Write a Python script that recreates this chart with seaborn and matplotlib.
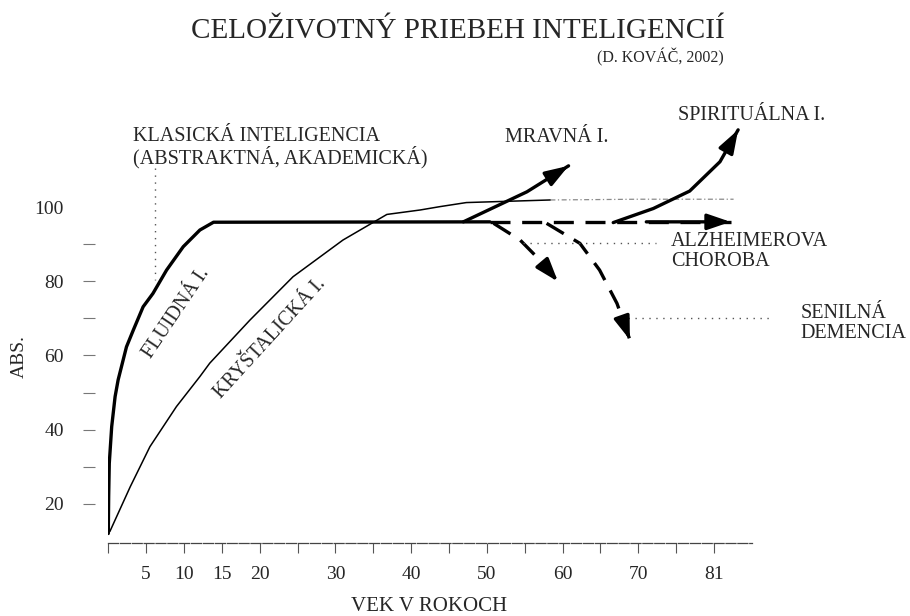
import numpy as np
import pandas as pd
import matplotlib
matplotlib.use("Agg")
import matplotlib.pyplot as plt
import seaborn as sns

# --- Data (age in years / ABS. score) ---
fluid_age = [0.0, 0.05, 0.13, 0.45, 0.9, 1.3, 2.4, 3.3, 4.6, 5.9, 7.7, 9.9, 12.1, 13.9, 50.4]
fluid_val = [12.0, 22.0, 30.9, 40.8, 48.9, 53.4, 62.3, 66.8, 73.1, 76.7, 83.0, 89.3, 93.8, 95.9, 96.0]

cryst_age = [0.2, 2.9, 5.5, 9.0, 12.1, 13.4, 18.7, 24.4, 31.0, 36.8, 41.2, 43.8, 47.3, 58.4]
cryst_val = [12.5, 24.6, 35.4, 46.2, 54.3, 57.9, 69.5, 81.2, 91.1, 98.0, 99.2, 100.1, 101.2, 101.9]
cryst_tail_age = [58.4, 70.0, 82.6]
cryst_tail_val = [101.9, 102.1, 102.1]

moral_age = [46.9, 55.3, 60.8]
moral_val = [96.0, 104.1, 111.1]

spirit_age = [66.7, 72.0, 76.8, 80.8, 83.2]
spirit_val = [95.8, 99.6, 104.3, 112.2, 120.8]

plateau_age = [50.4, 82.2]
plateau_val = [96.0, 96.0]

alz_age = [50.9, 54.4, 57.0, 59.4]
alz_val = [95.6, 91.1, 85.7, 79.9]

senile_age = [57.9, 62.3, 64.9, 67.2, 68.9]
senile_val = [95.6, 90.2, 83.0, 74.0, 64.2]

x_tick_pos = [0, 5, 10, 15, 20, 25, 30, 35, 40, 45, 50, 55, 60, 65, 70, 75, 80]
x_tick_labels = ["", "5", "10", "15", "20", "", "30", "", "40", "", "50", "", "60", "", "70", "", "81"]
y_tick_pos = [20, 30, 40, 50, 60, 70, 80, 90, 100]
y_tick_labels = ["20", "", "40", "", "60", "", "80", "", "100"]

# --- Style ---
sns.set_theme(style="white")
plt.rcParams["font.family"] = ["Liberation Serif", "DejaVu Serif"]

fig = plt.figure(figsize=(9.1, 6.16), dpi=100)
ax = fig.add_axes([0.119, 0.118, 0.7487, 0.6965])

THICK = 2.4
THIN = 1.1
DASH = (0, (6, 3.5))


def draw(xs, ys, lw, ls="-", color="black"):
    df = pd.DataFrame({"age": xs, "val": ys})
    sns.lineplot(data=df, x="age", y="val", ax=ax, color=color, linewidth=lw,
                 linestyle=ls, estimator=None, sort=False)


def head(xs, ys, lw):
    # short solid segment + filled arrow head at the last point
    x0, y0 = xs[-2], ys[-2]
    x1, y1 = xs[-1], ys[-1]
    ax.annotate("", xy=(x1, y1), xytext=(x1 - 0.35 * (x1 - x0), y1 - 0.35 * (y1 - y0)),
                arrowprops=dict(arrowstyle="-|>,head_length=0.7,head_width=0.24",
                                mutation_scale=20, color="black", lw=lw,
                                shrinkA=0, shrinkB=0))


# curves
draw(fluid_age, fluid_val, THICK)
draw(cryst_age, cryst_val, THIN)
draw(cryst_tail_age, cryst_tail_val, 0.9, ls=(0, (4, 2, 1, 2)), color="#8a8a8a")
draw(moral_age, moral_val, THICK)
head(moral_age, moral_val, THICK)
draw(spirit_age, spirit_val, THICK)
head(spirit_age, spirit_val, THICK)
draw(plateau_age, plateau_val, THICK, ls=DASH)
head(plateau_age, plateau_val, THICK)
draw(alz_age, alz_val, THICK, ls=DASH)
head(alz_age, alz_val, THICK)
draw(senile_age, senile_val, THICK, ls=DASH)
head(senile_age, senile_val, THICK)

# dotted leader lines
dot = dict(color="#555555", linewidth=1.0, linestyle=(0, (1, 4)))
ax.plot([6.2, 6.2], [110.5, 80.3], **dot)
ax.plot([54.8, 72.4], [90.4, 90.4], **dot)
ax.plot([68.7, 87.8], [70.0, 70.0], **dot)

# labels
fs = 14.5
ax.text(3.28, 117.7, "KLASICKÁ INTELIGENCIA", fontsize=fs, va="baseline")
ax.text(3.28, 111.75, "(ABSTRAKTNÁ, AKADEMICKÁ)", fontsize=fs, va="baseline")
ax.text(52.4, 117.5, "MRAVNÁ I.", fontsize=fs, va="baseline")
ax.text(75.3, 123.45, "SPIRITUÁLNA I.", fontsize=fs, va="baseline")
ax.text(74.3, 89.4, "ALZHEIMEROVA", fontsize=fs, va="baseline")
ax.text(74.3, 84.0, "CHOROBA", fontsize=fs, va="baseline")
ax.text(91.4, 70.1, "SENILNÁ", fontsize=fs, va="baseline")
ax.text(91.4, 64.7, "DEMENCIA", fontsize=fs, va="baseline")
ax.text(9.0, 71.3, "FLUIDNÁ I.", fontsize=fs, rotation=56,
        ha="center", va="center", rotation_mode="anchor")
ax.text(21.4, 64.6, "KRYŠTALICKÁ I.", fontsize=fs, rotation=47.6,
        ha="center", va="center", rotation_mode="anchor")

# axes
ax.set_xlim(0, 90)
ax.set_ylim(9.35, 125)
for side in ["top", "right", "left"]:
    ax.spines[side].set_visible(False)
ax.spines["left"].set_position(("outward", 9.4))
ax.spines["bottom"].set_bounds(0, 85)
ax.spines["bottom"].set_color("#444444")
ax.spines["bottom"].set_linewidth(0.9)
ax.spines["bottom"].set_linestyle((0, (8, 1.5)))

ax.set_xticks(x_tick_pos)
ax.set_xticklabels(x_tick_labels)
ax.set_yticks(y_tick_pos)
ax.set_yticklabels(y_tick_labels)
ax.tick_params(axis="x", direction="out", length=7.2, width=0.8, color="#555555",
               pad=9, labelsize=14, bottom=True)
ax.tick_params(axis="y", direction="out", length=8.6, width=0.8, color="#777777",
               pad=14, labelsize=14, left=True)
for t, v in zip(ax.yaxis.get_major_ticks(), y_tick_pos):
    if v == 100:
        t.tick1line.set_visible(False)

ax.set_xlabel("VEK V ROKOCH", fontsize=15)
ax.xaxis.set_label_coords(0.4707, -0.125)
ax.set_ylabel("")
fig.text(19 / 910, 1 - 356.7 / 616, "ABS.", rotation=90, fontsize=14,
         ha="center", va="center")

fig.text(458 / 910, 1 - 38.3 / 616, "CELOŽIVOTNÝ PRIEBEH INTELIGENCIÍ",
         fontsize=21, ha="center", va="baseline")
fig.text(723.3 / 910, 1 - 62 / 616, "(D. KOVÁČ, 2002)", fontsize=11.5,
         ha="right", va="baseline")

fig.savefig("out.png", dpi=100, facecolor="white")
